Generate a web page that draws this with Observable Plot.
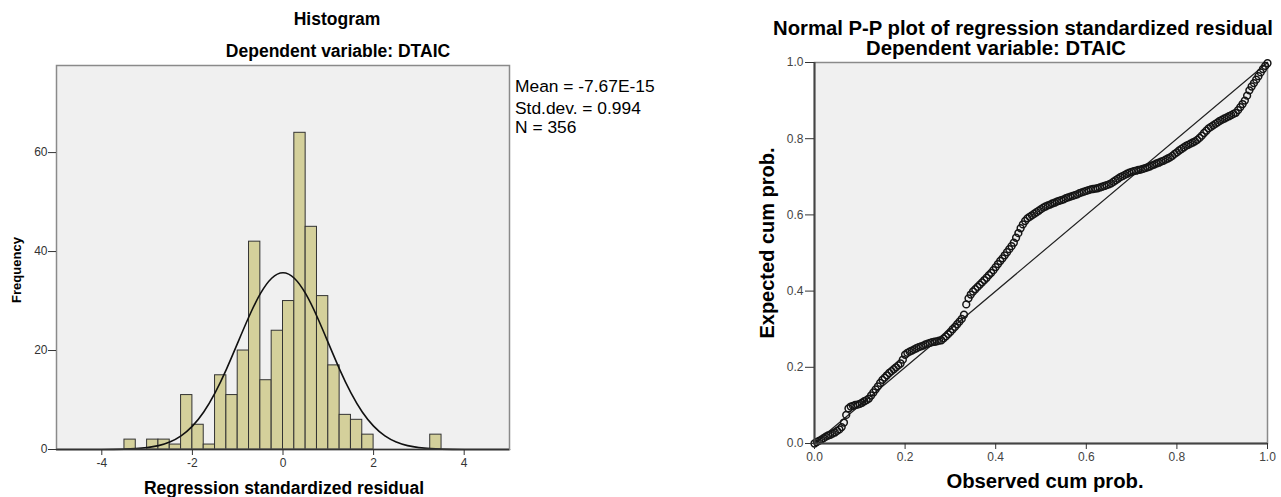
<!DOCTYPE html>
<html><head><meta charset="utf-8">
<script src="https://cdn.jsdelivr.net/npm/d3@7"></script>
<script src="https://cdn.jsdelivr.net/npm/@observablehq/plot@0.6"></script>
<style>
body{margin:0;background:#fff;font-family:"Liberation Sans",Arial,sans-serif;}
#wrap{position:relative;width:1281px;height:497px;overflow:hidden;background:#fff;}
.t{position:absolute;white-space:nowrap;color:#000;line-height:1;}
.b{font-weight:bold;}
.c{transform:translateX(-50%);}
#hist,#pp{position:absolute;top:0;}
#hist{left:0;} #pp{left:740px;}
</style></head><body><div id="wrap">
<div id="hist"></div><div id="pp"></div>
<div class="t b c" style="left:337px;top:11px;font-size:17.5px;">Histogram</div>
<div class="t b c" style="left:338px;top:43px;font-size:17.5px;">Dependent variable: DTAIC</div>
<div class="t" style="left:515px;top:78px;font-size:17.4px;">Mean = -7.67E-15</div>
<div class="t" style="left:515px;top:100px;font-size:17.4px;">Std.dev. = 0.994</div>
<div class="t" style="left:515px;top:119px;font-size:17.4px;">N = 356</div>
<div class="t b c" style="left:284px;top:480px;font-size:17.5px;">Regression standardized residual</div>
<div class="t b" style="left:16px;top:270px;font-size:13px;transform:translate(-50%,-50%) rotate(-90deg);">Frequency</div>
<div class="t b c" style="left:1023px;top:18px;font-size:20.3px;">Normal P-P plot of regression standardized residual</div>
<div class="t b c" style="left:996px;top:38px;font-size:20.3px;">Dependent variable: DTAIC</div>
<div class="t b" style="left:767px;top:243px;font-size:20px;transform:translate(-50%,-50%) rotate(-90deg);">Expected cum prob.</div>
<div class="t b c" style="left:1045px;top:471px;font-size:20.3px;">Observed cum prob.</div>
</div>
<script>
// Histogram data (bin edges and frequencies)
const binStart = [-3.5, -3.0, -2.75, -2.5, -2.25, -2.0, -1.75, -1.5, -1.25, -1.0, -0.75, -0.5, -0.25, 0, 0.25, 0.5, 0.75, 1.0, 1.25, 1.5, 1.75, 3.25];
const binEnd   = [-3.25, -2.75, -2.5, -2.25, -2.0, -1.75, -1.5, -1.25, -1.0, -0.75, -0.5, -0.25, 0, 0.25, 0.5, 0.75, 1.0, 1.25, 1.5, 1.75, 2.0, 3.5];
const counts   = [2, 2, 2, 1, 11, 5, 1, 15, 11, 20, 42, 14, 24, 30, 64, 45, 31, 17, 7, 6, 3, 3];

// Normal curve overlay
const curveX = [-5,-4.75,-4.5,-4.25,-4,-3.75,-3.5,-3.25,-3,-2.75,-2.5,-2.25,-2,-1.75,-1.5,-1.25,-1,-0.75,-0.5,-0.25,0,0.25,0.5,0.75,1,1.25,1.5,1.75,2,2.25,2.5,2.75,3,3.25,3.5,3.75,4,4.25,4.5,4.75,5];
const curveY = [0,0,0.001,0.004,0.011,0.03,0.073,0.17,0.376,0.78,1.51,2.75,4.72,7.58,11.44,16.2,21.54,26.87,31.48,34.61,35.72,34.61,31.48,26.87,21.54,16.2,11.44,7.58,4.72,2.75,1.51,0.78,0.376,0.17,0.073,0.03,0.011,0.004,0.001,0,0];

const histXTicks = [-4, -2, 0, 2, 4];
const histXTickLabels = ["-4", "-2", "0", "2", "4"];
const histYTicks = [0, 20, 40, 60];
const histYTickLabels = ["0", "20", "40", "60"];

// P-P plot data (observed vs expected cumulative probability)
const ppObserved = [0.000,0.005,0.010,0.015,0.020,0.025,0.030,0.035,0.040,0.045,0.050,0.055,0.060,0.065,0.070,0.075,0.080,0.085,0.090,0.095,
0.100,0.105,0.110,0.115,0.120,0.125,0.130,0.135,0.140,0.145,0.150,0.155,0.160,0.165,0.170,0.175,0.180,0.185,0.190,0.195,
0.200,0.205,0.210,0.215,0.220,0.225,0.230,0.235,0.240,0.245,0.250,0.255,0.260,0.265,0.270,0.275,0.280,0.285,0.290,0.295,
0.300,0.305,0.310,0.315,0.320,0.325,0.330,0.335,0.340,0.345,0.350,0.355,0.360,0.365,0.370,0.375,0.380,0.385,0.390,0.395,
0.400,0.405,0.410,0.415,0.420,0.425,0.430,0.435,0.440,0.445,0.450,0.455,0.460,0.465,0.470,0.475,0.480,0.485,0.490,0.495,
0.500,0.505,0.510,0.515,0.520,0.525,0.530,0.535,0.540,0.545,0.550,0.555,0.560,0.565,0.570,0.575,0.580,0.585,0.590,0.595,
0.600,0.605,0.610,0.615,0.620,0.625,0.630,0.635,0.640,0.645,0.650,0.655,0.660,0.665,0.670,0.675,0.680,0.685,0.690,0.695,
0.700,0.705,0.710,0.715,0.720,0.725,0.730,0.735,0.740,0.745,0.750,0.755,0.760,0.765,0.770,0.775,0.780,0.785,0.790,0.795,
0.800,0.805,0.810,0.815,0.820,0.825,0.830,0.835,0.840,0.845,0.850,0.855,0.860,0.865,0.870,0.875,0.880,0.885,0.890,0.895,
0.900,0.905,0.910,0.915,0.920,0.925,0.930,0.935,0.940,0.945,0.950,0.955,0.960,0.965,0.970,0.975,0.980,0.985,0.990,0.995,1.000];
const ppExpected = [0.000,0.004,0.007,0.010,0.014,0.018,0.021,0.023,0.026,0.029,0.033,0.037,0.043,0.055,0.075,0.092,0.097,0.099,0.101,0.102,
0.104,0.107,0.111,0.114,0.118,0.126,0.134,0.142,0.150,0.159,0.167,0.173,0.179,0.185,0.190,0.195,0.200,0.205,0.210,0.220,
0.233,0.238,0.241,0.244,0.247,0.250,0.253,0.255,0.257,0.260,0.262,0.264,0.266,0.267,0.268,0.270,0.271,0.276,0.281,0.287,
0.293,0.300,0.306,0.313,0.320,0.327,0.338,0.365,0.381,0.391,0.399,0.405,0.411,0.417,0.423,0.429,0.435,0.442,0.448,0.455,
0.463,0.471,0.479,0.486,0.494,0.502,0.510,0.518,0.527,0.540,0.552,0.565,0.575,0.584,0.591,0.595,0.599,0.603,0.607,0.611,
0.615,0.619,0.622,0.625,0.627,0.630,0.632,0.635,0.637,0.639,0.641,0.644,0.646,0.648,0.650,0.652,0.654,0.657,0.659,0.661,
0.663,0.665,0.667,0.668,0.669,0.670,0.672,0.674,0.676,0.678,0.680,0.683,0.687,0.691,0.695,0.699,0.702,0.705,0.708,0.711,
0.713,0.715,0.716,0.718,0.719,0.721,0.723,0.725,0.727,0.730,0.732,0.735,0.737,0.740,0.742,0.745,0.748,0.751,0.755,0.760,
0.764,0.769,0.773,0.777,0.781,0.784,0.787,0.790,0.793,0.797,0.802,0.808,0.815,0.821,0.827,0.831,0.835,0.839,0.843,0.847,
0.850,0.853,0.856,0.859,0.862,0.865,0.868,0.875,0.883,0.891,0.900,0.913,0.927,0.937,0.946,0.955,0.964,0.974,0.983,0.991,0.998];
const diagX = [0, 1];
const diagY = [0, 1];
const ppTicks = [0, 0.2, 0.4, 0.6, 0.8, 1.0];
const ppTickLabels = ["0.0", "0.2", "0.4", "0.6", "0.8", "1.0"];

const bins = binStart.map((s, i) => ({x1: s, x2: binEnd[i], n: counts[i]}));
const curve = curveX.map((x, i) => ({x, y: curveY[i]}));
const ppData = ppObserved.map((x, i) => ({x, y: ppExpected[i]}));
const diag = diagX.map((x, i) => ({x, y: diagY[i]}));

const font = "'Liberation Sans', Arial, sans-serif";

const hist = Plot.plot({
  width: 512, height: 475,
  marginLeft: 56, marginRight: 3, marginTop: 65, marginBottom: 26,
  x: {domain: [-5, 5]},
  y: {domain: [0, 77.6]},
  style: {fontFamily: font, fontSize: "12px", background: "transparent", overflow: "visible"},
  marks: [
    Plot.frame({fill: "#f0f0f0", stroke: "none"}),
    Plot.rect(bins, {x1: "x1", x2: "x2", y1: d => 0, y2: "n", fill: "#d4d09b", stroke: "#333", strokeWidth: 1, inset: 0}),
    Plot.line(curve, {x: "x", y: "y", curve: "natural", stroke: "#111", strokeWidth: 1.6}),
    Plot.frame({stroke: "#8a8a8a", strokeWidth: 1.5}),
    Plot.ruleY(histYTicks.slice(0, 1), {stroke: "#333", strokeWidth: 1.5}),
    Plot.axisX({ticks: histXTicks, tickFormat: d => histXTickLabels[histXTicks.indexOf(d)], tickSize: 6, tickPadding: 3, stroke: "#333", fill: "#333", label: null}),
    Plot.axisY({ticks: histYTicks, tickFormat: d => histYTickLabels[histYTicks.indexOf(d)], tickSize: 8, tickPadding: 1, stroke: "#333", fill: "#333", label: null})
  ]
});
document.getElementById("hist").appendChild(hist);

const pp = Plot.plot({
  width: 541, height: 475,
  marginLeft: 74, marginRight: 14, marginTop: 62, marginBottom: 32,
  x: {domain: [0, 1]},
  y: {domain: [0, 1]},
  style: {fontFamily: font, fontSize: "12px", background: "transparent", overflow: "visible"},
  marks: [
    Plot.frame({fill: "#f0f0f0", stroke: "#8a8a8a", strokeWidth: 1.5}),
    Plot.line(diag, {x: "x", y: "y", stroke: "#222", strokeWidth: 1.2}),
    Plot.dot(ppData, {x: "x", y: "y", r: 3.4, stroke: "#151515", fill: "none", strokeWidth: 1.5}),
    Plot.ruleX(ppTicks.slice(0, 1), {stroke: "#444", strokeWidth: 2}),
    Plot.ruleY(ppTicks.slice(0, 1), {stroke: "#444", strokeWidth: 2}),
    Plot.axisX({ticks: ppTicks, tickFormat: d => ppTickLabels[ppTicks.indexOf(d)], tickSize: 6, tickPadding: 3, stroke: "#333", fill: "#444", label: null}),
    Plot.axisY({ticks: ppTicks, tickFormat: d => ppTickLabels[ppTicks.indexOf(d)], tickSize: 9, tickPadding: 2, stroke: "#333", fill: "#444", label: null})
  ]
});
document.getElementById("pp").appendChild(pp);
</script>
</body></html>
